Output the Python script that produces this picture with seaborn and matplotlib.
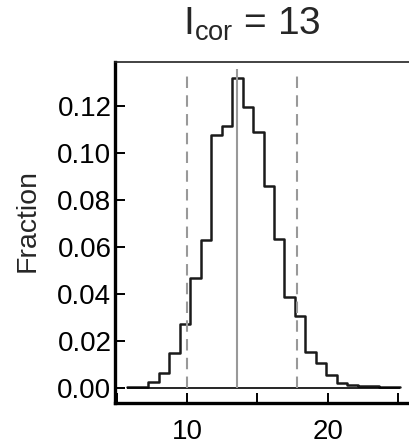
import matplotlib
matplotlib.use('Agg')
import numpy as np
import pandas as pd
import matplotlib.pyplot as plt
import seaborn as sns

# histogram (bin edges and fraction per bin)
bin_edges = [5.72, 6.47, 7.22, 7.96, 8.71, 9.46, 10.20, 10.95, 11.70, 12.44,
             13.19, 13.94, 14.68, 15.43, 16.18, 16.92, 17.67, 18.42, 19.16,
             19.91, 20.66, 21.40, 22.15, 22.90, 23.64, 24.39, 25.14]
fractions = [0.0005, 0.0005, 0.0024, 0.0063, 0.0148, 0.0272, 0.0467, 0.0630,
             0.1078, 0.1115, 0.1318, 0.1194, 0.1090, 0.0860, 0.0634, 0.0389,
             0.0306, 0.0152, 0.0108, 0.0055, 0.0020, 0.0013, 0.0009, 0.0009,
             0.0004, 0.0004]
center_line = 13.56
interval_lines = [10.0, 17.79]
x_ticks = [5, 10, 15, 20, 25]
x_tick_labels = ['', '10', '', '20', '']
y_ticks = [0.00, 0.02, 0.04, 0.06, 0.08, 0.10, 0.12]

edges = np.array(bin_edges)
df = pd.DataFrame({'value': (edges[:-1] + edges[1:]) / 2, 'fraction': fractions})

sns.set_style('ticks')
plt.rcParams['font.family'] = ['Liberation Sans', 'DejaVu Sans']
plt.rcParams['mathtext.default'] = 'regular'

fig = plt.figure(figsize=(4.09, 4.47), dpi=100)
ax = fig.add_axes([0.281, 0.0984, 0.719, 0.7626])

sns.histplot(data=df, x='value', weights='fraction', bins=bin_edges,
             element='step', fill=False, color='#1a1a1a', linewidth=1.8, ax=ax)

# zero line, centre value and interval (dashed)
ax.hlines(0, bin_edges[0], bin_edges[-1], color='black', linewidth=1.2)
ax.vlines(center_line, 0, 0.1357, color='#999999', linewidth=1.5)
ax.vlines(interval_lines, 0, 0.133, color='#999999', linewidth=1.5,
          linestyles=(0, (5.5, 3.5)))

ax.set_xlim(4.85, 25.79)
ax.set_ylim(-0.0064, 0.1387)
ax.set_xticks(x_ticks)
ax.set_xticklabels(x_tick_labels)
ax.set_yticks(y_ticks)
ax.set_yticklabels([f'{v:.2f}' for v in y_ticks])
ax.tick_params(direction='in', length=7, width=1.4, labelsize=20, colors='black')
ax.tick_params(axis='y', pad=2.5)
ax.tick_params(axis='x', pad=11.5)

ax.set_xlabel('')
ax.set_ylabel('Fraction', fontsize=20.5)
ax.yaxis.set_label_coords(-0.252, 0.535)
fig.text(252 / 409, 1 - 35 / 447, r'$\mathregular{I_{cor}}$ = 13', fontsize=28,
         ha='center', va='baseline')

for side in ['left', 'bottom']:
    ax.spines[side].set_linewidth(2.4)
    ax.spines[side].set_color('black')
ax.spines['top'].set_visible(True)
ax.spines['top'].set_linewidth(1.2)
ax.spines['top'].set_color('#222222')
ax.spines['right'].set_visible(False)

plt.savefig('out.png', dpi=100)
